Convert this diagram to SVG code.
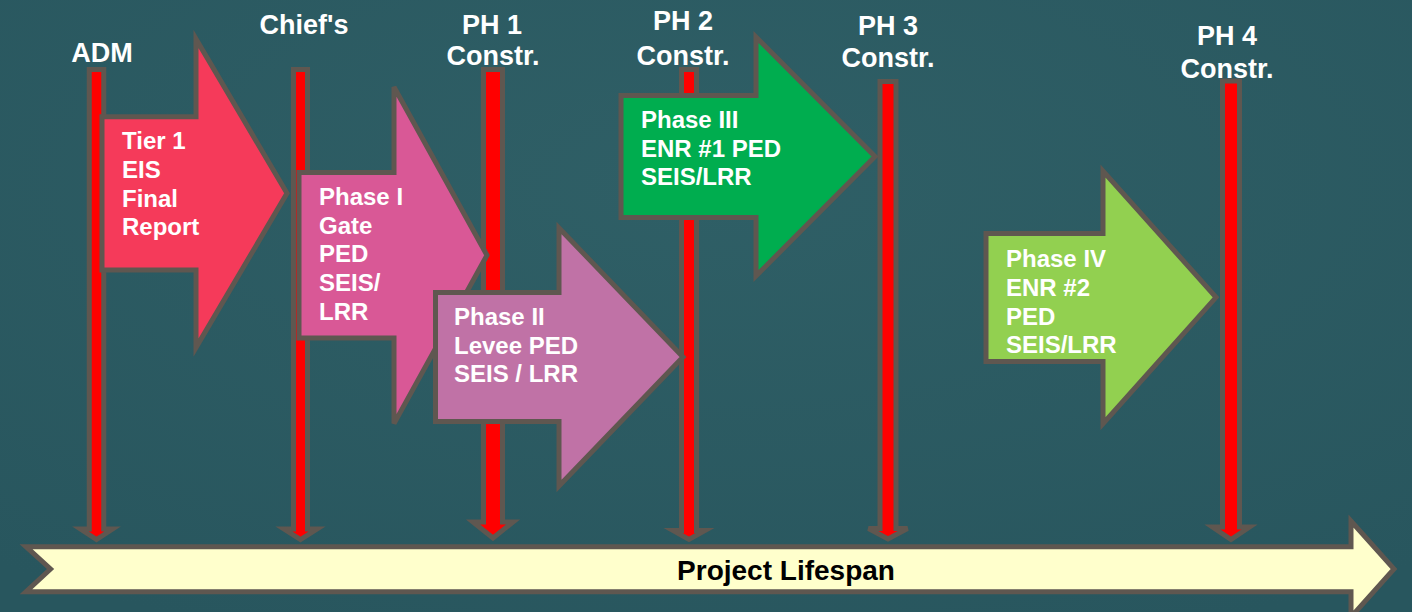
<svg xmlns="http://www.w3.org/2000/svg" width="1412" height="612" viewBox="0 0 1412 612">
<style>
.bg{fill:#2c5b62}
.ln{fill:#ff0000;stroke:#5f5750;stroke-width:5;stroke-linejoin:miter}
.ba{stroke:#5f5750;stroke-width:5;stroke-linejoin:miter}
.lbl{font-family:"Liberation Sans",Arial,sans-serif;font-weight:bold;font-size:27px;fill:#ffffff;text-anchor:middle}
.at{font-family:"Liberation Sans",Arial,sans-serif;font-weight:bold;font-size:24px;fill:#ffffff}
.pl{font-family:"Liberation Sans",Arial,sans-serif;font-weight:bold;font-size:28px;fill:#000000;text-anchor:middle}
</style>
<defs>
<radialGradient id="bgg" cx="0.5" cy="0.3" r="0.8">
<stop offset="0" stop-color="#2f5f66"/>
<stop offset="1" stop-color="#28565e"/>
</radialGradient>
</defs>
<rect width="1412" height="612" fill="url(#bgg)"/>

<g id="lifespan">
<path class="ba" fill="#ffffcc" d="M26,546.7 H1351 V521 L1394,569 L1351,617 V591.7 H26 L50.5,569 Z"/>
<text class="pl" x="786" y="580">Project Lifespan</text>
</g>

<g id="connectors">
<path id="line-adm" class="ln" d="M89.25,69.5 H103.75 V529 H112.5 L96.5,539.5 L80.5,529 H89.25 Z"/>
<path id="line-chiefs" class="ln" d="M293.5,69.5 H307.5 V529 H317 L300.5,539.5 L284,529 H293.5 Z"/>
<path id="line-ph1" class="ln" d="M483.5,69.5 H502.5 V522 H513 L493,538 L473,522 H483.5 Z"/>
<path id="line-ph2" class="ln" d="M681.5,69.5 H696.5 V530.5 H705 L689,539.5 L673,530.5 H681.5 Z"/>
<path id="line-ph3" class="ln" d="M880,81.5 H896 V528.5 H907.5 L888,539 L868.5,528.5 H880 Z"/>
<path id="line-ph4" class="ln" d="M1222.5,81 H1239.5 V527 H1249.5 L1231,539.5 L1212.5,527 H1222.5 Z"/>
</g>

<g id="labels">
<text class="lbl" x="102" y="62">ADM</text>
<text class="lbl" x="304" y="34">Chief's</text>
<text class="lbl" x="492" y="34">PH 1</text>
<text class="lbl" x="493" y="65">Constr.</text>
<text class="lbl" x="683" y="30">PH 2</text>
<text class="lbl" x="683" y="65">Constr.</text>
<text class="lbl" x="888" y="35">PH 3</text>
<text class="lbl" x="888" y="67">Constr.</text>
<text class="lbl" x="1227" y="45">PH 4</text>
<text class="lbl" x="1227" y="78">Constr.</text>
</g>

<g id="tier1">
<path class="ba" fill="#f53a5a" d="M102,116.7 H196 V39 L287,193.3 L196,347.6 V270 H102 Z"/>
<text class="at" x="122" y="149">Tier 1</text>
<text class="at" x="122" y="178">EIS</text>
<text class="at" x="122" y="207">Final</text>
<text class="at" x="122" y="235">Report</text>
</g>

<g id="phase1">
<path class="ba" fill="#d95896" d="M299,172.5 H394 V87 L487,255.3 L394,423.6 V338 H299 Z"/>
<text class="at" x="319" y="205">Phase I</text>
<text class="at" x="319" y="234">Gate</text>
<text class="at" x="319" y="262">PED</text>
<text class="at" x="319" y="291">SEIS/</text>
<text class="at" x="319" y="320">LRR</text>
</g>

<g id="phase2">
<path class="ba" fill="#c072a6" d="M435.5,292.5 H559 V228 L683,357 L559,486 V421.5 H435.5 Z"/>
<text class="at" x="454" y="325">Phase II</text>
<text class="at" x="454" y="354">Levee PED</text>
<text class="at" x="454" y="382">SEIS / LRR</text>
</g>

<g id="phase3">
<path class="ba" fill="#00ad4f" d="M621,95.5 H756 V37 L875,156.5 L756,276 V217.5 H621 Z"/>
<text class="at" x="641" y="128">Phase III</text>
<text class="at" x="641" y="157">ENR #1 PED</text>
<text class="at" x="641" y="185">SEIS/LRR</text>
</g>

<g id="phase4">
<path class="ba" fill="#92d050" d="M986,233.5 H1103 V171 L1216,297.3 L1103,423.6 V361.5 H986 Z"/>
<text class="at" x="1006" y="267">Phase IV</text>
<text class="at" x="1006" y="296">ENR #2</text>
<text class="at" x="1006" y="325">PED</text>
<text class="at" x="1006" y="353">SEIS/LRR</text>
</g>
</svg>
